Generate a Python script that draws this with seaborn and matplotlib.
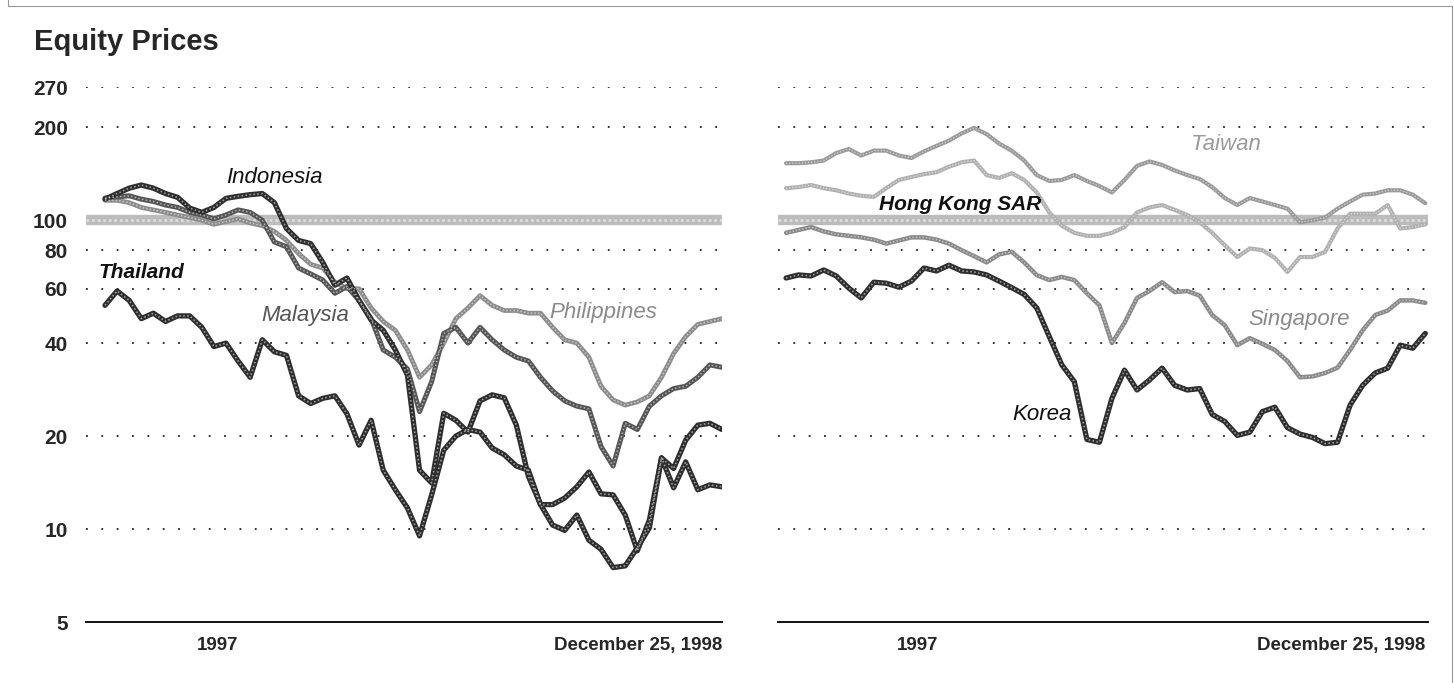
import pandas as pd
import matplotlib
matplotlib.use("Agg")
import matplotlib.pyplot as plt
import seaborn as sns
from matplotlib.ticker import FixedLocator, NullLocator
from matplotlib.lines import Line2D

# Biweekly observations, January 1997 to December 25, 1998 (index values)
dates = pd.date_range(end="1998-12-25", periods=52, freq="14D")

thailand = [53, 59, 55, 48, 50, 47, 49, 49, 45, 39, 40, 35, 31, 41, 37.5, 36.5, 27, 25.5, 26.5, 27,
            23.6, 18.7, 22.5, 15.5, 13.4, 11.7, 9.5, 12.9, 18, 20, 21, 20.6, 18.3, 17.4, 16, 15.5,
            12, 12, 12.6, 13.7, 15.3, 13, 12.9, 11.1, 8.5, 10.7, 17, 13.6, 16.5, 13.4, 13.9, 13.7]
indonesia = [117, 122, 127, 130, 127, 122, 118.6, 109.5, 106, 110, 117.7, 119.5, 121, 122, 114, 94,
             86, 84, 73, 61.6, 65, 55, 47.5, 44, 38, 31.5, 15.5, 14.1, 23.7, 22.5, 20.6, 26, 27.2,
             26.6, 21.7, 14.8, 12, 10.3, 9.9, 11.1, 9.2, 8.6, 7.5, 7.6, 8.7, 10.1, 17, 15.7, 19.4,
             21.7, 22, 21]
malaysia = [118, 119, 120, 117, 115, 112, 110, 106, 104, 101, 104, 108, 106, 100, 85, 82, 70, 67, 64,
            58, 61, 55, 48, 38, 36, 33, 24, 30, 43, 45, 40, 45, 41, 38, 36, 35, 31, 28, 26, 25, 24.5,
            18.5, 16, 22, 21, 25, 27, 28.5, 29, 31, 34, 33.4]
philippines = [116, 116, 114, 110, 108, 106, 104, 102, 100, 97, 99, 101, 98, 96, 92, 86, 78, 72, 70,
               63, 60, 60, 52, 47, 44, 38, 31, 34, 40, 48, 52, 57, 53, 51, 51, 50, 50, 45, 41, 40,
               36, 29, 26.2, 25.2, 25.8, 27, 31, 37, 42, 46, 47, 48]

taiwan = [153, 153, 154, 156, 165, 170, 162, 168, 168, 162, 159, 167, 174, 181, 191, 199, 190, 177,
          168, 156, 140, 134, 135, 140, 134, 129, 123, 135, 150, 155, 151, 145, 140, 136, 128, 118,
          112, 118, 115, 112, 109, 98.5, 100, 102, 109, 115, 121, 122, 125, 125, 121, 113.5]
hong_kong = [127, 128, 130, 127, 125, 122, 120, 119, 127, 135, 138, 141, 143, 149, 154, 156, 140, 137,
             142, 135, 123, 106, 96, 91, 89, 89, 91, 95, 106, 110, 112, 108, 104, 98.5, 91, 83, 76,
             81, 80, 75.5, 68, 76, 76, 79, 94, 105, 105, 105, 112, 94, 95, 97]
singapore = [91, 93, 95, 92, 90, 89, 88, 86.5, 84, 86, 88, 88, 86.5, 84, 80, 76.5, 73, 77.5, 79, 73,
             66.4, 64, 65.5, 64, 58, 53, 40, 46.5, 56, 59, 63, 58.5, 59, 57, 49.3, 45.7, 39.4, 41.5,
             39.8, 38, 35, 31, 31.2, 32, 33.3, 38, 44, 49.3, 51, 55, 55, 54]
korea = [65, 66.5, 66, 69, 66, 60.3, 56, 63, 62.5, 60.7, 63.5, 70, 68.5, 71.5, 68.5, 68, 66.5, 63.5,
         60.5, 57.5, 52, 42, 34, 30, 19.5, 19.1, 26.5, 32.7, 28.2, 30.4, 33.2, 29.2, 28.2, 28.5, 23.5,
         22.3, 20.1, 20.6, 24, 24.8, 21.3, 20.3, 19.8, 18.9, 19.1, 25.2, 29.2, 32, 33.2, 39.4, 38.5, 43]

y_ticks = [5, 10, 20, 40, 60, 80, 100, 200, 270]
grid_levels = [10, 20, 40, 60, 80, 200, 270]

sns.set_style("white")
plt.rcParams["font.family"] = ["Liberation Sans", "DejaVu Sans"]

fig = plt.figure(figsize=(14.54, 6.83), dpi=100)
ax_l = fig.add_axes([86 / 1454, 61 / 683, 636 / 1454, 535 / 683])
ax_r = fig.add_axes([778 / 1454, 61 / 683, 650 / 1454, 535 / 683])


def draw_series(ax, values, color, lw):
    sns.lineplot(x=dates, y=values, ax=ax, color=color, lw=lw, zorder=3, legend=False)
    # light speckle inside the line, like the printed texture
    sns.lineplot(x=dates, y=values, ax=ax, color="white", lw=lw * 0.3, alpha=0.55,
                 ls=(0, (1, 1.5)), zorder=4, legend=False)


def style_panel(ax, xlim, first_tick, show_y):
    ax.set_yscale("log")
    ax.set_ylim(5, 270)
    ax.set_xlim(pd.Timestamp(xlim[0]), pd.Timestamp(xlim[1]))
    for v in grid_levels:
        ax.axhline(v, color="#222222", lw=1.3, ls=(0, (1, 7.5)), zorder=1)
    ax.axhline(100, color="#bcbcbc", lw=7.5, zorder=1)
    ax.axhline(100, color="white", lw=2, alpha=0.5, ls=(0, (1, 1)), zorder=2)
    ax.yaxis.set_major_locator(FixedLocator(y_ticks))
    ax.yaxis.set_minor_locator(NullLocator())
    ax.set_yticklabels([str(t) for t in y_ticks], fontsize=15, fontweight="bold")
    ax.set_xticks([pd.Timestamp(first_tick), pd.Timestamp("1998-12-25")])
    ax.set_xticklabels(["1997", "December 25, 1998"], fontsize=13.5, fontweight="bold")
    ax.get_xticklabels()[1].set_ha("right")
    ax.tick_params(axis="y", length=0, pad=13, labelleft=show_y)
    ax.tick_params(axis="x", length=0, pad=11)
    ax.xaxis.set_minor_locator(NullLocator())
    for s in ["left", "right", "top"]:
        ax.spines[s].set_visible(False)
    ax.spines["bottom"].set_color("#111111")
    ax.spines["bottom"].set_linewidth(1.4)
    ax.set_xlabel("")
    ax.set_ylabel("")
    ax.patch.set_alpha(0)


# Left panel
draw_series(ax_l, philippines, "#8c8c8c", 3.4)
draw_series(ax_l, malaysia, "#555555", 3.6)
draw_series(ax_l, thailand, "#2e2e2e", 3.8)
draw_series(ax_l, indonesia, "#2e2e2e", 3.8)
style_panel(ax_l, ("1996-12-19", "1998-12-25"), "1997-05-20", True)

ax_l.text(0.296, 0.830, "Indonesia", transform=ax_l.transAxes, ha="center", va="center",
          fontsize=16, style="italic", color="#111111")
ax_l.text(0.087, 0.654, "Thailand", transform=ax_l.transAxes, ha="center", va="center",
          fontsize=15, style="italic", fontweight="bold", color="#111111")
ax_l.text(0.344, 0.572, "Malaysia", transform=ax_l.transAxes, ha="center", va="center",
          fontsize=16, style="italic", color="#555555")
ax_l.text(0.813, 0.578, "Philippines", transform=ax_l.transAxes, ha="center", va="center",
          fontsize=16, style="italic", color="#8a8a8a")

# Right panel
draw_series(ax_r, taiwan, "#9a9a9a", 3.0)
draw_series(ax_r, hong_kong, "#b0b0b0", 3.0)
draw_series(ax_r, singapore, "#8a8a8a", 3.2)
draw_series(ax_r, korea, "#2e2e2e", 3.8)
style_panel(ax_r, ("1997-01-01", "1998-12-28"), "1997-06-06", False)

ax_r.text(0.280, 0.781, "Hong Kong SAR", transform=ax_r.transAxes, ha="center", va="center",
          fontsize=15, style="italic", fontweight="bold", color="#111111")
ax_r.text(0.689, 0.892, "Taiwan", transform=ax_r.transAxes, ha="center", va="center",
          fontsize=16, style="italic", color="#9a9a9a")
ax_r.text(0.8015, 0.566, "Singapore", transform=ax_r.transAxes, ha="center", va="center",
          fontsize=16, style="italic", color="#8a8a8a")
ax_r.text(0.406, 0.387, "Korea", transform=ax_r.transAxes, ha="center", va="center",
          fontsize=16, style="italic", color="#111111")

fig.text(34 / 1454, 1 - 42 / 683, "Equity Prices", ha="left", va="center",
         fontsize=21, fontweight="bold")

# scanned frame around the chart
for xs, ys in [([8, 8], [-10, 6]), ([8, 1452], [6, 6]), ([1452, 1452], [6, 700])]:
    fig.add_artist(Line2D([x / 1454 for x in xs], [1 - y / 683 for y in ys],
                          transform=fig.transFigure, color="#999999", lw=0.8))

fig.savefig("out.png", dpi=100)
